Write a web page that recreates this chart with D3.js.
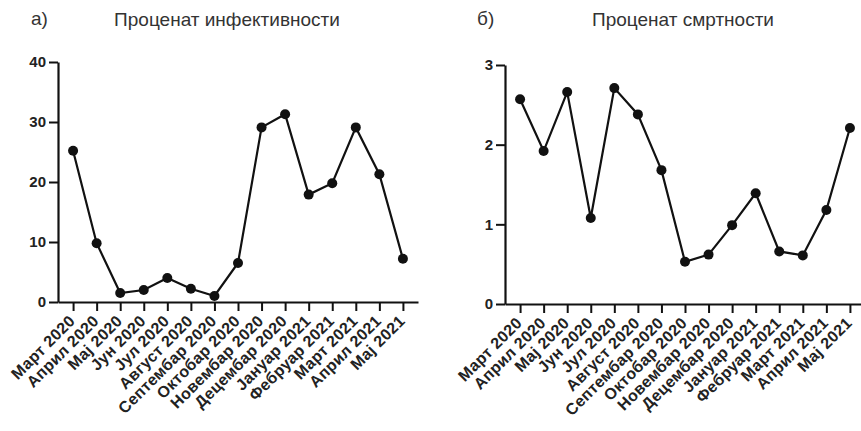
<!DOCTYPE html>
<html>
<head>
<meta charset="utf-8">
<script src="https://cdn.jsdelivr.net/npm/d3@7"></script>
<style>
  body { margin: 0; background: #fff; }
  svg text { font-family: "Liberation Sans", Arial, sans-serif; }
</style>
</head>
<body>
<script>
// categories (months)
var months = ["Март 2020", "Април 2020", "Мај 2020", "Јун 2020", "Јул 2020", "Август 2020",
  "Септембар 2020", "Октобар 2020", "Новембар 2020", "Децембар 2020", "Јануар 2021",
  "Фебруар 2021", "Март 2021", "Април 2021", "Мај 2021"];

// а) infectivity percentage
var infectivity = [25.2, 9.8, 1.5, 2.0, 4.0, 2.2, 1.0, 6.5, 29.1, 31.3, 17.9, 19.8, 29.1, 21.3, 7.2];
var infTicks = [0, 10, 20, 30, 40];

// б) mortality percentage
var mortality = [2.57, 1.92, 2.66, 1.08, 2.71, 2.38, 1.68, 0.53, 0.62, 0.99, 1.39, 0.66, 0.61, 1.18, 2.21];
var mortTicks = [0, 1, 2, 3];

var svg = d3.select("body").append("svg")
    .attr("width", 861)
    .attr("height", 431);

function panel(opts) {
    var x = d3.scalePoint()
        .domain(months)
        .range([opts.x0, opts.x1])
        .padding(0.64);
    var y = d3.scaleLinear()
        .domain([0, opts.max])
        .range([opts.y0, opts.y1]);

    var g = svg.append("g");

    // x axis
    var gx = g.append("g")
        .attr("transform", "translate(0," + opts.y0 + ")")
        .call(d3.axisBottom(x).tickSizeOuter(0).tickSizeInner(9).tickFormat(""));
    gx.select(".domain").attr("stroke", "#111").attr("stroke-width", 2.2);
    gx.selectAll(".tick line").attr("stroke", "#111").attr("stroke-width", 2);

    // rotated labels
    g.append("g").selectAll("text")
        .data(months)
        .enter().append("text")
            .attr("transform", function(d) {
                return "translate(" + (x(d) + 3) + "," + (opts.y0 + 20) + ") rotate(-45)";
            })
            .attr("text-anchor", "end")
            .attr("font-size", 16)
            .attr("letter-spacing", 0.3)
            .attr("font-weight", "bold")
            .attr("fill", "#222")
            .text(function(d) { return d; });

    // y axis
    var gy = g.append("g")
        .attr("transform", "translate(" + opts.x0 + ",0)")
        .call(d3.axisLeft(y).tickValues(opts.ticks).tickFormat(d3.format("d"))
            .tickSizeOuter(0).tickSizeInner(9).tickPadding(3));
    gy.select(".domain").attr("stroke", "#111").attr("stroke-width", 2.2);
    gy.selectAll(".tick line").attr("stroke", "#111").attr("stroke-width", 2);
    gy.selectAll(".tick text")
        .attr("font-size", 15)
        .attr("font-weight", "bold")
        .attr("fill", "#222")
        .style("font-family", "'Liberation Sans', Arial, sans-serif");

    // line
    var line = d3.line()
        .x(function(d, i) { return x(months[i]); })
        .y(function(d) { return y(d); });
    g.append("path")
        .datum(opts.values)
        .attr("d", line)
        .attr("fill", "none")
        .attr("stroke", "#111")
        .attr("stroke-width", 2.2);

    g.selectAll("circle")
        .data(opts.values)
        .enter().append("circle")
            .attr("cx", function(d, i) { return x(months[i]); })
            .attr("cy", function(d) { return y(d); })
            .attr("r", 5)
            .attr("fill", "#111");

    // titles
    g.append("text")
        .attr("x", opts.labelX)
        .attr("y", 25)
        .attr("font-size", 19)
        .attr("fill", "#333")
        .text(opts.label);
    g.append("text")
        .attr("x", opts.titleX)
        .attr("y", 26)
        .attr("text-anchor", "middle")
        .attr("font-size", 19)
        .attr("fill", "#333")
        .text(opts.title);
}

panel({
    values: infectivity, max: 40, ticks: infTicks,
    x0: 58, x1: 418, y0: 302, y1: 62,
    label: "а)", labelX: 31,
    title: "Проценат инфективности", titleX: 227
});

panel({
    values: mortality, max: 3, ticks: mortTicks,
    x0: 505, x1: 865, y0: 304, y1: 65,
    label: "б)", labelX: 477,
    title: "Проценат смртности", titleX: 683
});
</script>
</body>
</html>
